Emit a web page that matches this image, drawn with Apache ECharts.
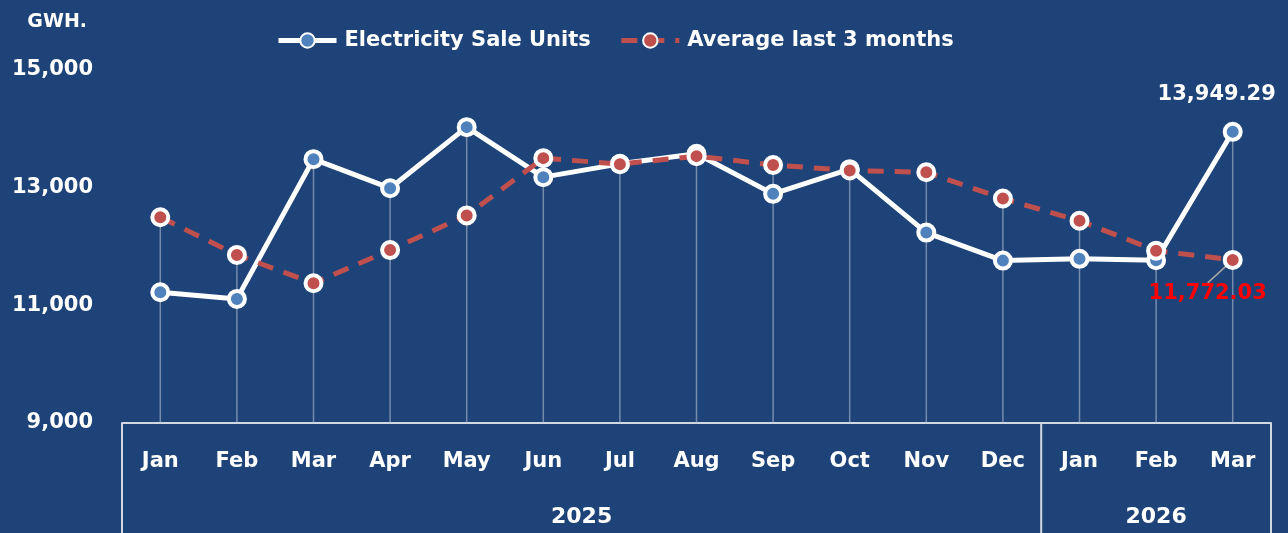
<!DOCTYPE html>
<html>
<head>
<meta charset="utf-8">
<script src="https://cdn.jsdelivr.net/npm/echarts@6/dist/echarts.min.js"></script>
<style>
    html, body { margin: 0; padding: 0; background: #1E4378; }
    #chart { width: 1288px; height: 533px; }
</style>
</head>
<body>
<div id="chart"></div>
<script>
// data
var months = ['Jan', 'Feb', 'Mar', 'Apr', 'May', 'Jun', 'Jul', 'Aug', 'Sep', 'Oct', 'Nov', 'Dec', 'Jan', 'Feb', 'Mar'];
var years = ['2025', '2026'];
var yearMonths = [12, 3];
var sales = [11223, 11109, 13485, 12991, 14029, 13179, 13405, 13575, 12895, 13315, 12236, 11760, 11790, 11766, 13949.29];
var avg3 = [12498, 11857, 11376, 11939, 12528, 13502, 13400, 13536, 13386, 13292, 13262, 12815, 12437, 11929, 11772.03];
var yMin = 9000, yMax = 15000, yStep = 2000;

var font = 'DejaVu Sans';
var bg = '#1E4378';
var boxColor = '#D3D8E0';
var chart = echarts.init(document.getElementById('chart'));
var last = sales.length - 1;

function fmt(v) {
    return v.toLocaleString('en-US', { minimumFractionDigits: 2, maximumFractionDigits: 2 });
}

// drop lines go up to the higher of the two points
var dropTop = sales.map(function(v, i) { return Math.max(v, avg3[i]); });

var salesData = sales.map(function(v, i) {
    if (i != last) return v;
    return {
        value: v,
        label: {
            show: true, position: 'top', offset: [-16, -12],
            color: '#fff', fontSize: 21, fontWeight: 'bold', fontFamily: font,
            formatter: function(p) { return fmt(p.value); }
        }
    };
});
var avgData = avg3.map(function(v, i) {
    if (i != last) return v;
    return {
        value: v,
        label: {
            show: true, position: 'bottom',
            color: '#FF0000', fontSize: 21, fontWeight: 'bold', fontFamily: font,
            formatter: function(p) { return fmt(p.value); }
        }
    };
});

var option = {
    backgroundColor: bg,
    animation: false,
    textStyle: { fontFamily: font },
    legend: {
        data: ['Electricity Sale Units', 'Average last 3 months'],
        left: 276,
        top: 30,
        padding: 0,
        itemWidth: 58,
        itemHeight: 18,
        itemGap: 28,
        lineStyle: { width: 'inherit' },
        textStyle: { color: '#fff', fontSize: 21, fontWeight: 'bold', fontFamily: font, padding: [0, 0, 0, 3] }
    },
    grid: { left: 122, right: 17, top: 70, bottom: 110 },
    xAxis: {
        type: 'category',
        data: months,
        axisLine: { lineStyle: { color: boxColor, width: 2 } },
        axisTick: { show: false },
        axisLabel: { color: '#fff', fontSize: 21, fontWeight: 'bold', margin: 28, interval: 0 }
    },
    yAxis: {
        type: 'value',
        min: yMin,
        max: yMax,
        interval: yStep,
        name: 'GWH.',
        nameLocation: 'end',
        nameGap: 48,
        nameTextStyle: { color: '#fff', fontSize: 19, fontWeight: 'bold', align: 'right', verticalAlign: 'middle', padding: [0, 35, 0, 0] },
        axisLine: { show: false },
        axisTick: { show: false },
        splitLine: { show: false },
        axisLabel: {
            color: '#fff', fontSize: 21, fontWeight: 'bold', margin: 29, padding: [0, 0, 10, 0],
            formatter: function(v) { return v.toLocaleString('en-US'); }
        }
    },
    series: [{
        name: 'drop',
        type: 'bar',
        data: dropTop,
        barWidth: 1.5,
        silent: true,
        z: 1,
        itemStyle: { color: 'rgba(175,188,208,0.6)' }
    }, {
        name: 'Electricity Sale Units',
        type: 'line',
        data: salesData,
        z: 3,
        symbol: 'circle',
        symbolSize: 16,
        lineStyle: { color: '#fff', width: 5 },
        itemStyle: { color: '#4F81BD', borderColor: '#fff', borderWidth: 4 }
    }, {
        name: 'Average last 3 months',
        type: 'line',
        data: avgData,
        z: 4,
        symbol: 'circle',
        symbolSize: 16,
        lineStyle: { color: '#C0504D', width: 5, type: [16, 11] },
        itemStyle: { color: '#C0504D', borderColor: '#fff', borderWidth: 4 },
        labelLayout: function(p) {
            if (p.dataIndex == last) return { dx: -25, dy: 8 };
        },
        labelLine: { show: true, lineStyle: { color: '#A6A6A6', width: 1.5 } }
    }]
};
chart.setOption(option);

// group box under the months: side lines, year dividers and year names
var gridRect = chart.getModel().getComponent('grid').coordinateSystem.getRect();
var baseY = gridRect.y + gridRect.height;
var graphics = [];
function vline(x) {
    graphics.push({ type: 'line', silent: true,
        shape: { x1: x, y1: baseY, x2: x, y2: 533 },
        style: { stroke: boxColor, lineWidth: 2 } });
}
vline(gridRect.x);
vline(gridRect.x + gridRect.width);
var start = 0;
for (var k = 0; k < years.length; k++) {
    var end = start + yearMonths[k] - 1;
    var x0 = chart.convertToPixel({ xAxisIndex: 0 }, start);
    var x1 = chart.convertToPixel({ xAxisIndex: 0 }, end);
    graphics.push({ type: 'text', silent: true,
        x: (x0 + x1) / 2, y: 517,
        style: { text: years[k], fill: '#fff', font: 'bold 22px "DejaVu Sans"', align: 'center', verticalAlign: 'middle' } });
    if (k < years.length - 1) {
        var xn = chart.convertToPixel({ xAxisIndex: 0 }, end + 1);
        vline((x1 + xn) / 2);
    }
    start = end + 1;
}
chart.setOption({ graphic: graphics });
</script>
</body>
</html>
